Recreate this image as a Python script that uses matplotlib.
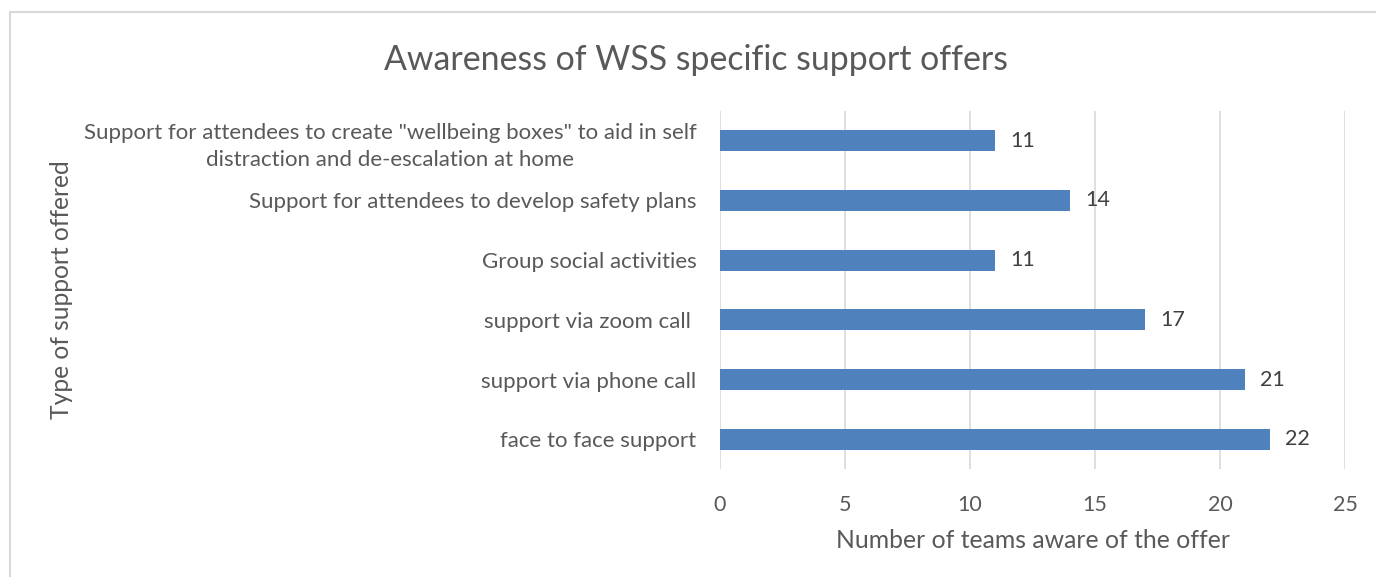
import matplotlib
matplotlib.use('Agg')
import matplotlib.pyplot as plt
from matplotlib.patches import Rectangle

plt.rcParams['font.family'] = ['Lato', 'DejaVu Sans']

categories = [
    'face to face support',
    'support via phone call',
    'support via zoom call ',
    'Group social activities',
    'Support for attendees to develop safety plans',
    'Support for attendees to create "wellbeing boxes" to aid in self\ndistraction and de-escalation at home',
]
values = [22, 21, 17, 11, 14, 11]

txt = '#595959'
bar_color = '#4F81BD'
grid_color = '#D9D9D9'

fig = plt.figure(figsize=(13.76, 5.77), dpi=100)
# light border of the chart area
fig.patches.append(Rectangle((10/1376, -0.1), 1.2, (577-12)/577 + 0.1, transform=fig.transFigure,
                             fill=False, edgecolor='#D9D9D9', linewidth=1.5))

ax = fig.add_axes([720/1376, 1-469/577, 625/1376, 358/577])
ypos = list(range(len(categories)))
ax.barh(ypos, values, height=0.35, color=bar_color, zorder=3)
for y, v in zip(ypos, values):
    ax.annotate(str(v), (v, y), xytext=(11, 0), textcoords='offset points',
                va='center', ha='left', fontsize=15.5, color='#404040')

ax.set_xlim(0, 25)
ax.set_ylim(-0.5, len(categories) - 0.5)
ax.set_xticks(range(0, 26, 5))
ax.set_yticks(ypos)
ax.set_yticklabels(categories, fontsize=16, color=txt, ha='right', multialignment='center',
                   linespacing=1.45)
ax.tick_params(axis='x', length=0, pad=19, labelsize=15.5, labelcolor=txt)
ax.tick_params(axis='y', length=0, pad=17)
ax.grid(axis='x', color=grid_color, linewidth=1.2, zorder=0)
for s in ax.spines.values():
    s.set_visible(False)

ax.set_xlabel('Number of teams aware of the offer', fontsize=17.8, color=txt, labelpad=10)
fig.text(62/1376, 1-290/577, 'Type of support offered', rotation=90, ha='center', va='center',
         fontsize=17.7, color=txt)
fig.text(696/1376, 1-60/577, 'Awareness of WSS specific support offers', ha='center', va='center',
         fontsize=24.4, color=txt)

fig.savefig('out.png', dpi=100)
